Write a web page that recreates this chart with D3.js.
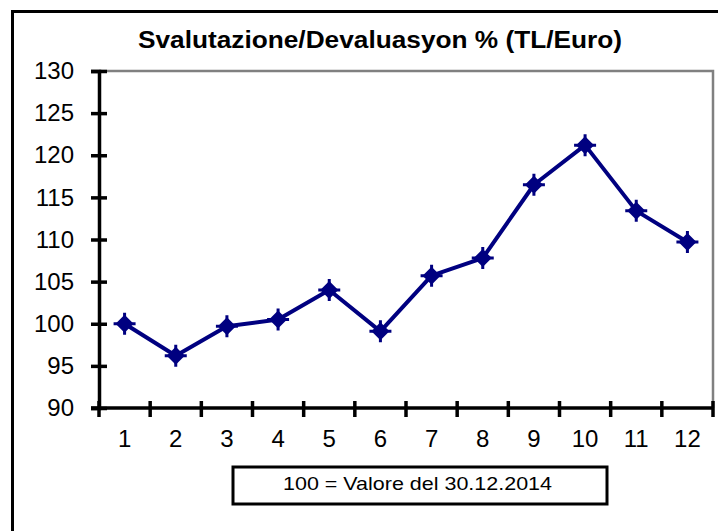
<!DOCTYPE html>
<html>
<head>
<meta charset="utf-8">
<script src="https://cdn.jsdelivr.net/npm/d3@7"></script>
<style>
  body { margin: 0; background: #fff; }
  svg { display: block; font-family: "Liberation Sans", Arial, sans-serif; }
</style>
</head>
<body>
<div id="chart"></div>
<script>
// chart values
var months = ["1", "2", "3", "4", "5", "6", "7", "8", "9", "10", "11", "12"];
var index = [100.0, 96.2, 99.7, 100.5, 104.0, 99.1, 105.7, 107.8, 116.5, 121.2, 113.4, 109.7];
var yTicks = [90, 95, 100, 105, 110, 115, 120, 125, 130];
var title = "Svalutazione/Devaluasyon % (TL/Euro)";
var note = "100 = Valore del 30.12.2014";

var width = 718, height = 531;
var plot = {left: 99, right: 713, top: 71, bottom: 408};

var svg = d3.select("#chart").append("svg")
    .attr("width", width)
    .attr("height", height);

// outer frame (right/bottom run off the picture)
svg.append("rect")
    .attr("x", 12.5).attr("y", 11.5)
    .attr("width", 730).attr("height", 540)
    .attr("fill", "none").attr("stroke", "#000").attr("stroke-width", 3);

var x = d3.scaleBand().domain(months).range([plot.left, plot.right]).padding(0);
var y = d3.scaleLinear().domain([90, 130]).range([plot.bottom, plot.top]);

// plot area border: grey top and right
svg.append("path")
    .attr("d", "M" + plot.left + "," + y(130) + "H" + plot.right + "V" + plot.bottom)
    .attr("fill", "none").attr("stroke", "#808080").attr("stroke-width", 2.5);

// title
svg.append("text")
    .attr("x", 138).attr("y", 48)
    .attr("font-size", 23).attr("font-weight", "bold")
    .attr("textLength", 484).attr("lengthAdjust", "spacingAndGlyphs")
    .text(title);

// y axis
var yAxis = d3.axisLeft(y).tickValues(yTicks).tickSize(8).tickPadding(17);
var gy = svg.append("g")
    .attr("transform", "translate(" + plot.left + ",0)")
    .call(yAxis);
gy.select(".domain").attr("stroke", "#000").attr("stroke-width", 3.5);
gy.selectAll(".tick line").attr("stroke", "#000").attr("stroke-width", 3.5)
    .attr("x1", 8);
gy.selectAll(".tick text")
    .attr("font-size", 24).attr("fill", "#000")
    .attr("font-family", "Liberation Sans, Arial, sans-serif");

// x axis: ticks sit between categories
var gx = svg.append("g")
    .attr("transform", "translate(0," + plot.bottom + ")");
gx.append("line")
    .attr("x1", plot.left - 8).attr("x2", plot.right)
    .attr("stroke", "#000").attr("stroke-width", 3.5);
var edges = months.map(function (m) { return x(m); }).concat([x(months[months.length - 1]) + x.bandwidth()]);
gx.selectAll(".xtick").data(edges).enter().append("line")
    .attr("class", "xtick")
    .attr("x1", function (d) { return d; }).attr("x2", function (d) { return d; })
    .attr("y1", -7).attr("y2", 9)
    .attr("stroke", "#000").attr("stroke-width", 3.5);
gx.selectAll(".xlabel").data(months).enter().append("text")
    .attr("class", "xlabel")
    .attr("x", function (d) { return x(d) + x.bandwidth() / 2; })
    .attr("y", 39)
    .attr("text-anchor", "middle")
    .attr("font-size", 24)
    .text(function (d) { return d; });

// series line
var line = d3.line()
    .x(function (d, i) { return x(months[i]) + x.bandwidth() / 2; })
    .y(function (d) { return y(d); });
svg.append("path")
    .datum(index)
    .attr("d", line)
    .attr("fill", "none")
    .attr("stroke", "#000080")
    .attr("stroke-width", 4)
    .attr("stroke-linejoin", "round");

// markers: diamond with a cross
var marks = svg.append("g").selectAll("g").data(index).enter().append("g")
    .attr("transform", function (d, i) {
        return "translate(" + (x(months[i]) + x.bandwidth() / 2) + "," + y(d) + ")";
    });
marks.append("path")
    .attr("d", "M0,-9L9,0L0,9L-9,0Z")
    .attr("fill", "#000080");
marks.append("path")
    .attr("d", "M-11,0H11M0,-11V11")
    .attr("stroke", "#000080").attr("stroke-width", 3);

// note box
var nb = svg.append("g");
nb.append("rect")
    .attr("x", 233).attr("y", 467)
    .attr("width", 374).attr("height", 37)
    .attr("fill", "#fff").attr("stroke", "#000").attr("stroke-width", 3);
nb.append("text")
    .attr("x", 283).attr("y", 490)
    .attr("font-size", 19)
    .attr("textLength", 269).attr("lengthAdjust", "spacingAndGlyphs")
    .text(note);
</script>
</body>
</html>
